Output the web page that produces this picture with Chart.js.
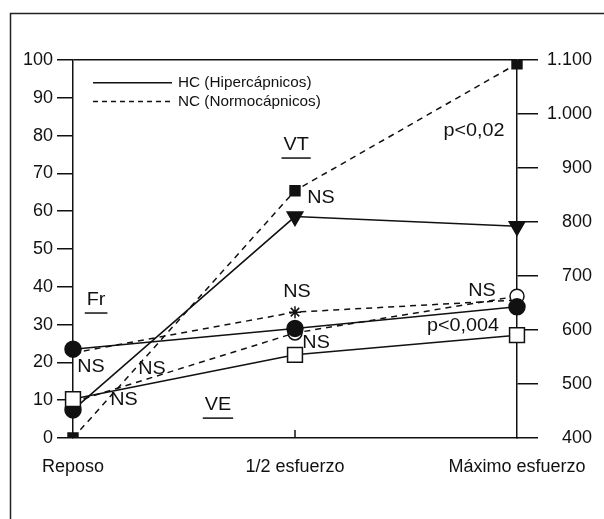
<!DOCTYPE html>
<html>
<head>
<meta charset="utf-8">
<script src="https://cdn.jsdelivr.net/npm/chart.js@4/dist/chart.umd.min.js"></script>
<style>
  html, body { margin: 0; padding: 0; background: #fff; }
  #wrap { position: relative; width: 604px; height: 519px; }
</style>
</head>
<body>
<div id="wrap"><canvas id="c" width="604" height="519"></canvas></div>
<script>
// ---- Data ----
const CATEGORIES = ['Reposo', '1/2 esfuerzo', 'Máximo esfuerzo'];
// Left axis (0-100)
const FR_HC = [23.5, 29, 34.7];
const FR_NC = [22.5, 33.3, 36.5];
const VE_HC = [10.3, 22, 27.2];
const VE_NC = [9.5, 27.8, 37.5];
// Right axis (400-1.100)
const VT_HC = [452, 810, 792];
const VT_NC = [400, 858, 1093];
const LEFT_TICKS = [0, 10, 20, 30, 40, 50, 60, 70, 80, 90, 100];
const RIGHT_TICKS = [400, 500, 600, 700, 800, 900, 1000, 1100];
const LEGEND_LABELS = ['HC (Hipercápnicos)', 'NC (Normocápnicos)'];
// Text annotations: [text, category position, left-axis value, underlined]
const ANNOTATIONS = [
  ['Fr', 0.104, 36.5, true],
  ['VT', 1.005, 77.5, true],
  ['VE', 0.653, 8.7, true],
  ['NS', 0.081, 18.8, false],
  ['NS', 0.356, 18.3, false],
  ['NS', 0.23, 10.0, false],
  ['NS', 1.117, 63.5, false],
  ['NS', 1.009, 38.6, false],
  ['NS', 1.095, 25.1, false],
  ['NS', 1.842, 38.9, false],
  ['p<0,02', 1.806, 81.2, false],
  ['p<0,004', 1.757, 29.6, false]
];

const INK = '#111';
const FONT = '"Liberation Sans", Arial, Helvetica, sans-serif';
const DASH = [6, 5];

const decor = {
  id: 'decor',
  beforeDraw(chart) {
    const ctx = chart.ctx;
    ctx.save();
    ctx.fillStyle = '#fff';
    ctx.fillRect(0, 0, chart.width, chart.height);
    ctx.strokeStyle = '#222';
    ctx.lineWidth = 1.5;
    ctx.beginPath();
    ctx.moveTo(10.5, chart.height);
    ctx.lineTo(10.5, 13.5);
    ctx.lineTo(chart.width, 13.5);
    ctx.stroke();
    ctx.restore();
  },
  afterDatasetsDraw(chart) {
    const ctx = chart.ctx;
    const xs = chart.scales.x, ys = chart.scales.y;
    ctx.save();
    ctx.strokeStyle = INK;
    ctx.lineWidth = 1.5;
    const xm = xs.getPixelForValue(1);
    ctx.beginPath();
    ctx.moveTo(xm, chart.chartArea.bottom);
    ctx.lineTo(xm, chart.chartArea.bottom - 8);
    ctx.stroke();

    // annotations (slightly widened text like the reference print)
    ctx.fillStyle = INK;
    ctx.textAlign = 'center';
    ctx.textBaseline = 'middle';
    ctx.font = '18px ' + FONT;
    const SX = 1.1;
    ANNOTATIONS.forEach(([t, xv, yv, ul]) => {
      const px = xs.getPixelForValue(xv);
      const py = ys.getPixelForValue(yv);
      ctx.save();
      ctx.translate(px, py);
      ctx.scale(SX, 1);
      ctx.fillText(t, 0, 0);
      ctx.restore();
      if (ul) {
        const w = ctx.measureText(t).width * SX + 4;
        ctx.beginPath();
        ctx.moveTo(px - w / 2, py + 13);
        ctx.lineTo(px + w / 2, py + 13);
        ctx.stroke();
      }
    });

    // legend
    const lx0 = 93, lx1 = 172, tx = 178;
    const rows = [ys.getPixelForValue(94), ys.getPixelForValue(89)];
    ctx.font = '15px ' + FONT;
    ctx.textAlign = 'left';
    rows.forEach((y, i) => {
      ctx.setLineDash(i === 0 ? [] : [5, 4]);
      ctx.lineWidth = 1.5;
      ctx.beginPath();
      ctx.moveTo(lx0, y);
      ctx.lineTo(lx1, y);
      ctx.stroke();
      ctx.setLineDash([]);
      ctx.save();
      ctx.translate(tx, y);
      ctx.scale(1.02, 1);
      ctx.fillText(LEGEND_LABELS[i], 0, 0);
      ctx.restore();
    });
    ctx.restore();
  }
};

const base = {
  borderColor: INK,
  borderWidth: 1.5,
  pointBorderColor: INK,
  pointBorderWidth: 1.5,
  tension: 0,
  fill: false
};

new Chart(document.getElementById('c'), {
  type: 'line',
  data: {
    labels: CATEGORIES,
    datasets: [
      Object.assign({}, base, { label: 'Fr HC', data: FR_HC, yAxisID: 'y',
        pointStyle: 'circle', pointRadius: 8, pointBackgroundColor: INK }),
      Object.assign({}, base, { label: 'VE HC', data: VE_HC, yAxisID: 'y',
        pointStyle: 'rect', pointRadius: 10.5, pointBackgroundColor: '#fff' }),
      Object.assign({}, base, { label: 'VT HC', data: VT_HC, yAxisID: 'y2',
        pointStyle: ['circle', 'triangle', 'triangle'], pointRotation: [0, 180, 180],
        pointRadius: [8, 9, 9], pointBackgroundColor: INK }),
      Object.assign({}, base, { label: 'VE NC', data: VE_NC, yAxisID: 'y', borderDash: DASH,
        pointStyle: 'circle', pointRadius: 7, pointBackgroundColor: '#fff' }),
      Object.assign({}, base, { label: 'Fr NC', data: FR_NC, yAxisID: 'y', borderDash: DASH,
        pointStyle: 'star', pointRadius: [0, 6, 0], pointBackgroundColor: INK }),
      Object.assign({}, base, { label: 'VT NC', data: VT_NC, yAxisID: 'y2', borderDash: DASH,
        pointStyle: 'rect', pointRadius: 7, pointBackgroundColor: INK })
    ]
  },
  options: {
    responsive: false,
    animation: false,
    events: [],
    layout: { padding: { left: 0, right: 12, top: 60, bottom: 0 } },
    plugins: { legend: { display: false }, tooltip: { enabled: false } },
    scales: {
      x: {
        type: 'category',
        offset: false,
        grid: { display: false },
        border: { display: true, color: INK, width: 1.5 },
        ticks: { color: INK, font: { size: 18, family: FONT }, padding: 10, maxRotation: 0, autoSkip: false },
        afterFit(s) { s.height = 81; }
      },
      y: {
        position: 'left',
        min: 0, max: 100,
        afterBuildTicks(s) { s.ticks = LEFT_TICKS.map(v => ({ value: v })); },
        grid: {
          color: c => (c.tick && c.tick.value === 100 ? INK : 'rgba(0,0,0,0)'),
          tickColor: INK, lineWidth: 1.5, tickLength: 16, drawOnChartArea: true
        },
        border: { display: true, color: INK, width: 1.5 },
        ticks: { color: INK, font: { size: 18, family: FONT }, padding: 4 },
        afterFit(s) { s.width = 73; }
      },
      y2: {
        position: 'right',
        min: 400, max: 1100,
        afterBuildTicks(s) { s.ticks = RIGHT_TICKS.map(v => ({ value: v })); },
        grid: { drawOnChartArea: false, color: INK, tickColor: INK, lineWidth: 1.5, tickLength: 21 },
        border: { display: true, color: INK, width: 1.5 },
        ticks: {
          color: INK, font: { size: 18, family: FONT }, crossAlign: 'far',
          callback: v => v.toLocaleString('de-DE')
        },
        afterFit(s) { s.width = 75; }
      }
    }
  },
  plugins: [decor]
});
</script>
</body>
</html>
